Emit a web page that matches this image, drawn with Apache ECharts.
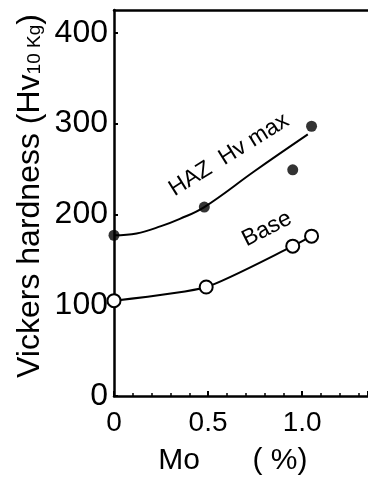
<!DOCTYPE html>
<html>
<head>
<meta charset="utf-8">
<script src="https://cdn.jsdelivr.net/npm/echarts@6/dist/echarts.min.js"></script>
<style>
html,body{margin:0;padding:0;background:#fff;}
#chart{width:368px;height:478px;}
</style>
</head>
<body>
<div id="chart"></div>
<script>
// Data
const hazMo = [0, 0.48, 0.95, 1.05];
const hazMax = [177, 208, 249, 297];
const baseMo = [0, 0.49, 0.95, 1.05];
const baseHv = [105, 120, 165, 176];
// fitted trend curve drawn through the HAZ Hv max points
const hazCurveMo = [0, 0.12, 0.25, 0.35, 0.48, 0.75, 1.03];
const hazCurveHv = [177, 179, 187, 195, 208, 248, 288];
const yTickValues = [0, 100, 200, 300, 400];
const xTickValues = [0, 0.5, 1.0];
const xTickLabels = ['0', '0.5', '1.0'];

const FONT = 'Liberation Sans';
const zip = (a, b) => a.map((v, i) => [v, b[i]]);

const chart = echarts.init(document.getElementById('chart'), null, {renderer: 'canvas'});
chart.setOption({
  animation: false,
  backgroundColor: '#fff',
  grid: {left: 114, top: 10, right: 0, bottom: 82},
  xAxis: [{
    type: 'value', min: 0, max: 1.35, interval: 0.5,
    axisLine: {lineStyle: {color: '#000', width: 2.5}},
    axisTick: {inside: true, length: 5, lineStyle: {color: '#000', width: 2}},
    minorTick: {show: true, splitNumber: 5, length: 3, lineStyle: {color: '#000', width: 1.5}},
    splitLine: {show: false},
    axisLabel: {
      margin: 13, color: '#000', fontFamily: FONT, fontSize: 28,
      showMaxLabel: false,
      formatter: v => {
        const i = xTickValues.findIndex(t => Math.abs(t - v) < 1e-9);
        return i >= 0 ? xTickLabels[i] : '';
      }
    }
  }, {
    type: 'value', position: 'top', min: 0, max: 1.35,
    axisLine: {show: true, lineStyle: {color: '#000', width: 2.5}},
    axisTick: {show: false}, axisLabel: {show: false}, splitLine: {show: false}
  }],
  yAxis: {
    type: 'value', min: 0, max: 425, interval: 100,
    axisLine: {show: true, lineStyle: {color: '#000', width: 2.5}},
    axisTick: {show: true, inside: true, length: 4, lineStyle: {color: '#000', width: 2}},
    splitLine: {show: false},
    axisLabel: {
      margin: 6, color: '#000', fontFamily: FONT, fontSize: 32,
      showMaxLabel: false,
      formatter: v => yTickValues.includes(v) ? String(v) : ''
    }
  },
  series: [{
    name: 'HAZ curve', type: 'line', data: zip(hazCurveMo, hazCurveHv),
    showSymbol: false, smooth: 0.4, clip: false,
    lineStyle: {color: '#000', width: 2}
  }, {
    name: 'HAZ Hv max', type: 'scatter', data: zip(hazMo, hazMax),
    symbolSize: 11, clip: false, itemStyle: {color: '#000'}
  }, {
    name: 'Base', type: 'line', data: zip(baseMo, baseHv),
    smooth: 0.2, clip: false, symbol: 'circle', symbolSize: 13, showSymbol: true,
    lineStyle: {color: '#000', width: 2},
    itemStyle: {color: '#fff', borderColor: '#000', borderWidth: 2}
  }],
  graphic: [{
    type: 'text', x: 30, y: 196, rotation: Math.PI / 2,
    style: {
      text: '{a|Vickers hardness (Hv}{b|10 Kg}{a|)}',
      rich: {
        a: {fontSize: 32, fontFamily: FONT, fill: '#000'},
        b: {fontSize: 19, fontFamily: FONT, fill: '#000', verticalAlign: 'bottom', padding: [0, 0, 2, 0]}
      },
      align: 'center', verticalAlign: 'middle'
    }
  }, {
    type: 'text', x: 179, y: 461,
    style: {text: 'Mo', fontSize: 30, fontFamily: FONT, fill: '#000', align: 'center', verticalAlign: 'middle'}
  }, {
    type: 'text', x: 280, y: 461,
    style: {text: '( %)', fontSize: 30, fontFamily: FONT, fill: '#000', align: 'center', verticalAlign: 'middle'}
  }, {
    type: 'text', x: 229, y: 155, rotation: 32 * Math.PI / 180,
    style: {text: 'HAZ  Hv max', fontSize: 23, fontFamily: FONT, fill: '#000', align: 'center', verticalAlign: 'middle'}
  }, {
    type: 'text', x: 267, y: 229, rotation: 27 * Math.PI / 180,
    style: {text: 'Base', fontSize: 23, fontFamily: FONT, fill: '#000', align: 'center', verticalAlign: 'middle'}
  }]
});
</script>
</body>
</html>
